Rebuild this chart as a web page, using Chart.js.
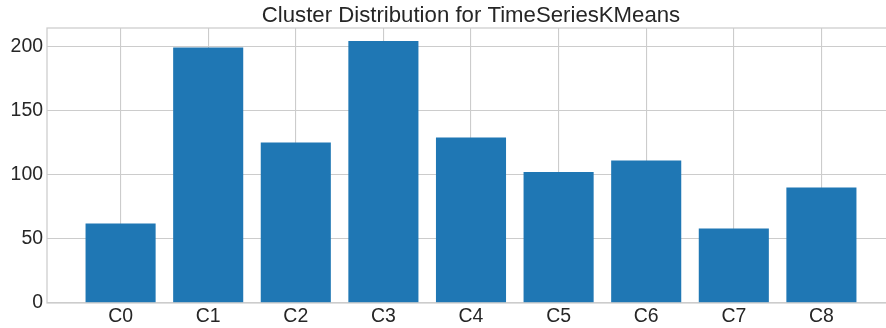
<!DOCTYPE html>
<html>
<head>
<meta charset="utf-8">
<script src="https://cdn.jsdelivr.net/npm/chart.js@4/dist/chart.umd.min.js"></script>
<style>
   html, body { margin: 0; padding: 0; background: #fff; }
   .wrap { width: 886px; height: 328px; overflow: hidden; }
</style>
</head>
<body>
<div class="wrap">
   <canvas id="cluster-dist" width="900" height="328"></canvas>
</div>
<script>
const categories = ["C0", "C1", "C2", "C3", "C4", "C5", "C6", "C7", "C8"];
const counts = [62, 199, 125, 204, 129, 102, 111, 58, 90];
const yTicks = [0, 50, 100, 150, 200];
const titleText = "Cluster Distribution for TimeSeriesKMeans";

const barBlue = "#1f77b4";
const gridGrey = "#cccccc";
const textDark = "#262626";
const font = "'Liberation Sans', Arial, sans-serif";

// light grey box round the plot area, drawn over the bars like a spine
const frame = {
   id: "frame",
   afterDatasetsDraw(chart) {
      const a = chart.chartArea;
      const ctx = chart.ctx;
      ctx.save();
      ctx.strokeStyle = gridGrey;
      ctx.lineWidth = 1.25;
      ctx.strokeRect(a.left, a.top, a.right - a.left, a.bottom - a.top);
      ctx.restore();
   }
};

// title centred over the plot area rather than the whole canvas
const plotTitle = {
   id: "plotTitle",
   afterDraw(chart) {
      const a = chart.chartArea;
      const ctx = chart.ctx;
      ctx.save();
      ctx.fillStyle = textDark;
      ctx.font = "22.2px " + font;
      ctx.textAlign = "center";
      ctx.textBaseline = "alphabetic";
      ctx.fillText(titleText, (a.left + a.right) / 2, 22);
      ctx.restore();
   }
};

let clusterBar = new Chart("cluster-dist", {
   type: "bar",
   data: {
      datasets: [
         {
            data: counts.map((v, i) => ({ x: i, y: v })),
            backgroundColor: barBlue,
            borderWidth: 0,
            barPercentage: 0.8,
            categoryPercentage: 1.0
         }
      ]
   },
   options: {
      responsive: false,
      animation: false,
      layout: {
         padding: { top: 28, right: 5, bottom: 0, left: 0 }
      },
      plugins: {
         legend: { display: false },
         tooltip: { enabled: false },
         title: { display: false }
      },
      scales: {
         x: {
            type: "linear",
            min: -0.84,
            max: 8.84,
            offset: false,
            afterBuildTicks: (scale) => {
               scale.ticks = categories.map((c, i) => ({ value: i }));
            },
            afterFit: (scale) => {
               scale.height = 25;
            },
            ticks: {
               callback: (value) => categories[value],
               color: textDark,
               font: { family: font, size: 19.44 },
               padding: 2,
               maxRotation: 0,
               autoSkip: false
            },
            grid: { color: gridGrey, lineWidth: 1.1, drawTicks: false, offset: false },
            border: { display: false }
         },
         y: {
            min: 0,
            max: 214.2,
            afterBuildTicks: (scale) => {
               scale.ticks = yTicks.map((v) => ({ value: v }));
            },
            afterFit: (scale) => {
               scale.width = 47;
            },
            ticks: {
               color: textDark,
               font: { family: font, size: 19.44 },
               padding: 4
            },
            grid: { color: gridGrey, lineWidth: 1.1, drawTicks: false },
            border: { display: false }
         }
      }
   },
   plugins: [frame, plotTitle]
});
</script>
</body>
</html>
